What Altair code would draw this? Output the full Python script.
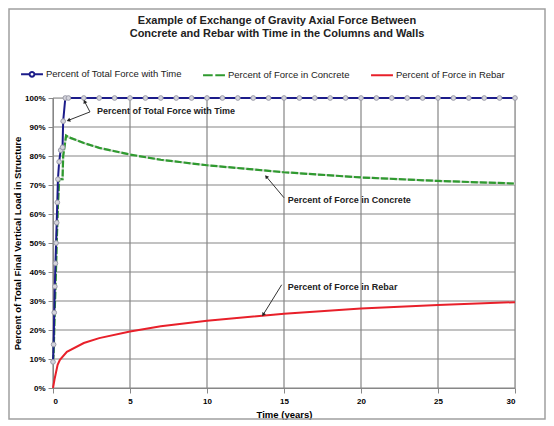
import math
import altair as alt
import pandas as pd

# ---------------- data ----------------
total_t = [0, 0.04, 0.08, 0.12, 0.16, 0.2, 0.24, 0.28, 0.32, 0.4, 0.5, 0.62, 0.66, 0.8, 1,
           2, 3, 4, 5, 6, 7, 8, 9, 10, 11, 12, 13, 14, 15, 16, 17, 18, 19, 20,
           21, 22, 23, 24, 25, 26, 27, 28, 29, 30]
total_v = [9, 15, 26, 35, 43, 50, 57, 64, 72, 78, 82, 83, 92, 100, 100,
           100, 100, 100, 100, 100, 100, 100, 100, 100, 100, 100, 100, 100, 100, 100, 100, 100, 100, 100,
           100, 100, 100, 100, 100, 100, 100, 100, 100, 100]

concrete_t = [0, 0.04, 0.08, 0.12, 0.16, 0.2, 0.24, 0.28, 0.32, 0.4, 0.62, 0.66, 0.85, 1,
              2, 3, 5, 7, 10, 15, 20, 25, 30]
concrete_v = [9, 12, 20, 28, 35, 42, 50, 57, 63, 72, 72, 80, 87, 86.5,
              84.5, 82.8, 80.5, 78.7, 76.8, 74.4, 72.6, 71.4, 70.5]

rebar_t = [0, 0.1, 0.2, 0.3, 0.45, 0.9, 2, 3, 5, 7, 10, 15, 20, 25, 30]
rebar_v = [0, 3, 5.5, 8, 9.7, 12.5, 15.5, 17.2, 19.5, 21.3, 23.2, 25.6, 27.4, 28.6, 29.6]

series_names = ["Percent of Total Force with Time",
                "Percent of Force in Concrete",
                "Percent of Force in Rebar"]
series_colors = ["#1c1c8a", "#2f9a2f", "#e8202a"]

title_lines = ["Example of Exchange of Gravity Axial Force Between",
               "Concrete and Rebar with Time in the Columns and Walls"]

x_ticks = [0, 5, 10, 15, 20, 25, 30]
y_ticks = [0, 10, 20, 30, 40, 50, 60, 70, 80, 90, 100]

# annotations: label text, label position, arrows (start -> end)
ann_text = ["Percent of Total Force with Time", "Percent of Force in Concrete", "Percent of Force in Rebar"]
ann_x = [2.85, 15.25, 15.25]
ann_y = [95.5, 64.8, 34.8]
arrow_x1 = [2.4, 2.4, 15.0, 14.85]
arrow_y1 = [95.2, 95.2, 65.6, 35.6]
arrow_x2 = [2.05, 1.0, 13.85, 13.65]
arrow_y2 = [98.8, 92.3, 72.9, 25.3]

W, H = 462, 290
X_MAX, Y_MAX = 30, 100

# ---------------- frames ----------------
df_total = pd.DataFrame({"t": total_t, "v": total_v})
df_conc = pd.DataFrame({"t": concrete_t, "v": concrete_v})
df_rebar = pd.DataFrame({"t": rebar_t, "v": rebar_v})
df_ann = pd.DataFrame({"t": ann_x, "v": ann_y, "text": ann_text})
df_xgrid = pd.DataFrame({"t": x_ticks})
df_ygrid = pd.DataFrame({"v": y_ticks})

angles = []
for x1, y1, x2, y2 in zip(arrow_x1, arrow_y1, arrow_x2, arrow_y2):
    dx = (x2 - x1) * W / X_MAX
    dy = -(y2 - y1) * H / Y_MAX
    angles.append(math.degrees(math.atan2(dx, -dy)) % 360)
df_arrow = pd.DataFrame({"t": arrow_x1, "v": arrow_y1,
                         "t2": arrow_x2, "v2": arrow_y2,
                         "angle": angles})
df_leg = pd.DataFrame({"series": series_names})

FONT = "Liberation Sans"

xscale = alt.Scale(domain=[0, X_MAX], nice=False)
yscale = alt.Scale(domain=[0, Y_MAX], nice=False)

x_axis = alt.Axis(values=x_ticks, title="Time (years)", grid=False,
                  labelFontSize=8, labelFontWeight="bold", titleFontSize=9.5,
                  titleFontWeight="bold", titlePadding=4, labelPadding=4, labelOverlap=False)
y_axis = alt.Axis(values=y_ticks, labelExpr="datum.value + '%'",
                  title="Percent of Total Final Vertical Load in Structure", grid=False,
                  labelFontSize=8, labelFontWeight="bold", titleFontSize=9.5,
                  titleFontWeight="bold", titlePadding=2, labelPadding=3, labelOverlap=False)

X = alt.X("t:Q", scale=xscale, axis=x_axis)
Y = alt.Y("v:Q", scale=yscale, axis=y_axis)

GRID = "#858585"
xgrid = alt.Chart(df_xgrid).mark_rule(color=GRID, strokeWidth=1.2).encode(x=X)
ygrid = alt.Chart(df_ygrid).mark_rule(color=GRID, strokeWidth=1.2).encode(y=Y)

total_line = alt.Chart(df_total).mark_line(color=series_colors[0], strokeWidth=2).encode(x=X, y=Y)
total_pts = alt.Chart(df_total).mark_point(filled=True, size=22, fill="#d4d4dc", stroke="#9a9aa8",
                                          strokeWidth=1, opacity=1).encode(x=X, y=Y)
conc_under = alt.Chart(df_conc).mark_line(color="#c9d6c9", strokeWidth=2.2).encode(x=X, y=Y)
conc_line = alt.Chart(df_conc).mark_line(color=series_colors[1], strokeWidth=2.2,
                                         strokeDash=[7, 2]).encode(x=X, y=Y)
rebar_line = alt.Chart(df_rebar).mark_line(color=series_colors[2], strokeWidth=2).encode(x=X, y=Y)

shape_paths = [
    "M-1,0L-0.22,0M0.22,0L1,0M0.22,0A0.22,0.22,0,1,1,-0.22,0A0.22,0.22,0,1,1,0.22,0",
    "M-1,0L-0.12,0M0.12,0L1,0",
    "M-1,0L1,0",
]
legend_layer = alt.Chart(df_leg).mark_point(filled=False, strokeWidth=2).encode(
    x=alt.X("tt:Q", scale=xscale, axis=x_axis), y=alt.Y("vv:Q", scale=yscale, axis=y_axis),
    color=alt.Color("series:N", scale=alt.Scale(domain=series_names, range=series_colors),
                    legend=alt.Legend(title=None, orient="none", legendX=-33, legendY=-36,
                                      direction="horizontal", columns=3, columnPadding=17,
                                      labelFontSize=9.5, labelFont=FONT, labelColor="#222",
                                      symbolSize=480, symbolStrokeWidth=2, labelOffset=2,
                                      symbolOpacity=1)),
    shape=alt.Shape("series:N", scale=alt.Scale(domain=series_names, range=shape_paths)),
)

ann_txt = alt.Chart(df_ann).mark_text(align="left", baseline="middle", fontSize=9,
                                      fontWeight="bold", font=FONT, color="#222").encode(
    x=X, y=Y, text="text:N")
arrow_lines = alt.Chart(df_arrow).mark_rule(color="#333", strokeWidth=1).encode(
    x=X, y=Y, x2="t2:Q", y2="v2:Q")
arrow_heads = alt.Chart(df_arrow).mark_point(shape="triangle-up", filled=True, size=18,
                                             color="#222", opacity=1).encode(
    x=alt.X("t2:Q", scale=xscale, axis=x_axis), y=alt.Y("v2:Q", scale=yscale, axis=y_axis),
    angle=alt.Angle("angle:Q", scale=None))

frame = alt.Chart(pd.DataFrame({"a": [0]})).mark_rect(fill=None, stroke="#a0a0a0", strokeWidth=1.5).encode(
    x=alt.value(-44), x2=alt.value(W + 30), y=alt.value(-89), y2=alt.value(H + 31))

chart = alt.layer(
    frame, xgrid, ygrid, conc_under, conc_line, rebar_line, total_line, total_pts,
    arrow_lines, arrow_heads, ann_txt, legend_layer
).properties(
    width=W, height=H,
    autosize=alt.AutoSizeParams(type="none"),
    padding={"left": 45, "top": 90, "right": 31, "bottom": 32},
    title=alt.TitleParams(title_lines, fontSize=11, fontWeight="bold", font=FONT,
                          anchor="middle", dx=-7, offset=-31, lineHeight=13.5, color="#222"),
).configure_axis(
    domainColor="#222", tickColor="#222",
    tickSize=4, labelFont=FONT, titleFont=FONT, labelColor="#222", titleColor="#222",
).configure_view(stroke=None).configure(background="white")

chart.save("out.html", embed_options={"renderer": "svg", "actions": False})
